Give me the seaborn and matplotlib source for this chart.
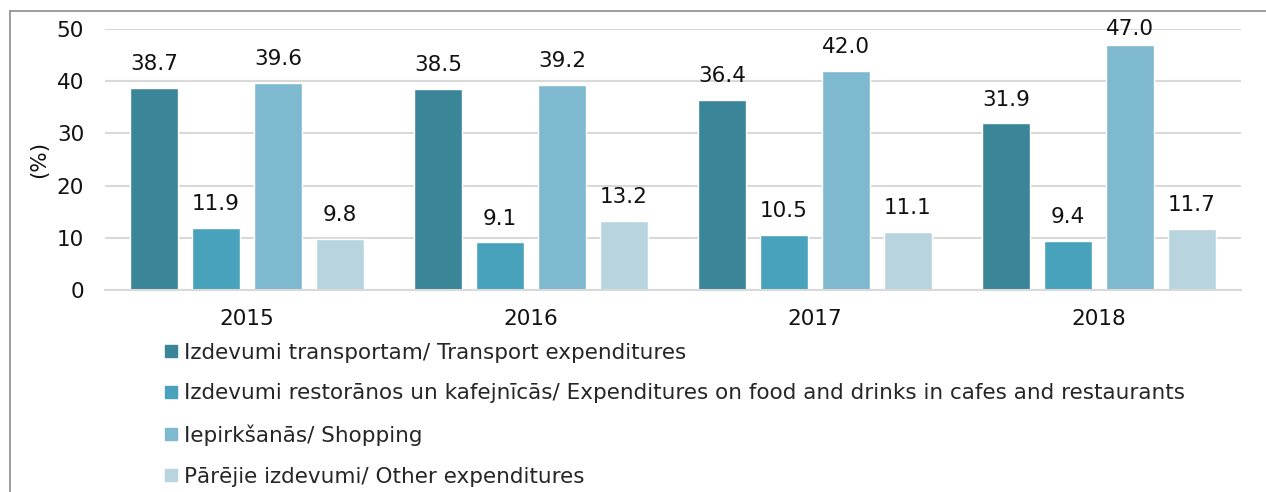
import pandas as pd
import matplotlib.pyplot as plt
import seaborn as sns
from matplotlib.lines import Line2D

# --- DATOS ---
years = ["2015", "2016", "2017", "2018"]
series_names = [
    "Izdevumi transportam/ Transport expenditures",
    "Izdevumi restorānos un kafejnīcās/ Expenditures on food and drinks in cafes and restaurants",
    "Iepirkšanās/ Shopping",
    "Pārējie izdevumi/ Other expenditures",
]
transport = [38.7, 38.5, 36.4, 31.9]
cafes = [11.9, 9.1, 10.5, 9.4]
shopping = [39.6, 39.2, 42.0, 47.0]
other = [9.8, 13.2, 11.1, 11.7]
colors = ["#3b8598", "#49a2bb", "#7fb9cf", "#b7d4df"]

rows = []
for name, vals in zip(series_names, [transport, cafes, shopping, other]):
    for y, v in zip(years, vals):
        rows.append({"year": y, "series": name, "value": v})
df = pd.DataFrame(rows)

# --- GRAFICO ---
sns.set_theme(style="white")
plt.rcParams["font.family"] = ["DejaVu Sans"]
fs = 15.5

fig = plt.figure(figsize=(12.66, 4.92), dpi=100)
ax = fig.add_axes([105 / 1266, 1 - 290 / 492, (1241 - 105) / 1266, (290 - 29) / 492])

sns.barplot(data=df, x="year", y="value", hue="series", palette=colors,
            width=0.87, gap=0.22, saturation=1, ax=ax)

for c in ax.containers:
    labels_c = ax.bar_label(c, fmt="%.1f", padding=10, fontsize=fs, color="#111111")
    # etiquetas muy altas quedan pegadas a la barra (como en Excel)
    for t, bar in zip(labels_c, c):
        if bar.get_height() > 45:
            t.xyann = (0, 4)

ax.set_ylim(0, 50)
ax.set_yticks(range(0, 51, 10))
ax.yaxis.grid(True, color="#d9d9d9", linewidth=1.5)
ax.set_axisbelow(True)
for s in ["top", "right", "left"]:
    ax.spines[s].set_visible(False)
ax.spines["bottom"].set_color("#d9d9d9")
ax.spines["bottom"].set_linewidth(1.5)
ax.tick_params(axis="both", length=0, labelsize=fs, colors="#111111")
ax.tick_params(axis="x", pad=14)
ax.tick_params(axis="y", pad=15)
ax.set_xlabel("")
ax.set_ylabel("(%)", fontsize=fs, color="#111111")
ax.yaxis.set_label_coords(-0.049, 0.5)

handles, labels = ax.get_legend_handles_labels()
ax.get_legend().remove()
handles = [Line2D([0], [0], marker="s", linestyle="", markersize=8, color=c) for c in colors]
fig.legend(handles, labels, loc="upper left", bbox_to_anchor=(155 / 1266, 1 - 334 / 492),
           frameon=False, fontsize=fs, handlelength=0.7, handletextpad=0.25,
           labelspacing=0.97, borderaxespad=0)

# borde del marco
fig.add_artist(Line2D([10 / 1266, 10 / 1266], [0, 1 - 11 / 492], color="#8c8c8c", linewidth=1.2))
fig.add_artist(Line2D([10 / 1266, 1], [1 - 11 / 492, 1 - 11 / 492], color="#8c8c8c", linewidth=1.2))

fig.savefig("out.png", dpi=100)
